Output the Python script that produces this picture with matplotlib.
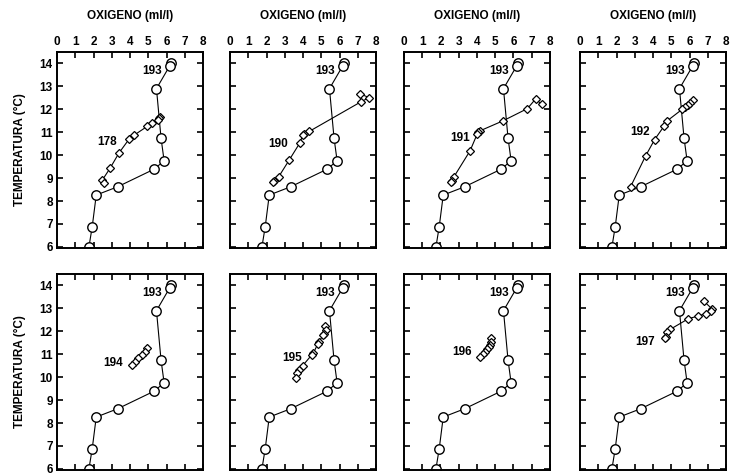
import matplotlib
matplotlib.use("Agg")
import matplotlib.pyplot as plt

plt.rcParams['font.family'] = ['Liberation Sans', 'DejaVu Sans']
plt.rcParams['font.weight'] = 'bold'

# station 193 (circles), same in every panel
st193_oxi = [6.25, 6.18, 5.45, 5.7, 5.87, 5.3, 3.32, 2.15, 1.93, 1.75]
st193_tem = [14.0, 13.9, 12.9, 10.75, 9.75, 9.38, 8.62, 8.26, 6.88, 6.0]

# other stations (diamonds)
st178_oxi = [5.65, 5.6, 5.55, 5.2, 4.95, 4.24, 3.96, 3.4, 2.9, 2.48, 2.58]
st178_tem = [11.68, 11.62, 11.55, 11.4, 11.26, 10.88, 10.71, 10.1, 9.42, 8.91, 8.77]

st190_oxi = [7.12, 7.62, 7.16, 4.35, 4.05, 3.98, 3.84, 3.23, 2.67, 2.43, 2.34]
st190_tem = [12.68, 12.51, 12.32, 11.04, 10.94, 10.87, 10.55, 9.77, 9.06, 8.88, 8.84]

st191_oxi = [7.54, 7.21, 6.76, 5.43, 4.16, 4.07, 4.02, 3.62, 2.74, 2.64, 2.58]
st191_tem = [12.22, 12.45, 12.03, 11.5, 11.06, 10.99, 10.94, 10.19, 9.06, 8.88, 8.81]

st192_oxi = [6.17, 6.03, 5.9, 5.75, 5.6, 4.75, 4.6, 4.09, 3.59, 2.77]
st192_tem = [12.39, 12.27, 12.17, 12.1, 12.0, 11.48, 11.26, 10.68, 9.96, 8.62]

st194_oxi = [4.92, 4.82, 4.64, 4.45, 4.27, 4.09]
st194_tem = [11.26, 11.11, 10.97, 10.82, 10.67, 10.53]

st195_oxi = [5.22, 5.26, 5.17, 5.08, 4.88, 4.81, 4.57, 4.49, 3.98, 3.8, 3.69, 3.6]
st195_tem = [12.21, 12.04, 11.89, 11.82, 11.53, 11.45, 11.05, 10.98, 10.5, 10.32, 10.18, 9.97]

st196_oxi = [4.77, 4.77, 4.71, 4.66, 4.57, 4.44, 4.31, 4.16]
st196_tem = [11.71, 11.55, 11.41, 11.33, 11.23, 11.11, 11.01, 10.89]

st197_oxi = [6.79, 7.26, 7.16, 6.89, 6.48, 5.94, 4.93, 4.79, 4.71, 4.66]
st197_tem = [13.31, 12.96, 12.87, 12.77, 12.67, 12.55, 12.08, 11.96, 11.74, 11.7]

stations = [
    ("178", st178_oxi, st178_tem, 2.76, 10.58),
    ("190", st190_oxi, st190_tem, 2.64, 10.5),
    ("191", st191_oxi, st191_tem, 3.07, 10.73),
    ("192", st192_oxi, st192_tem, 3.29, 11.0),
    ("194", st194_oxi, st194_tem, 3.09, 10.6),
    ("195", st195_oxi, st195_tem, 3.38, 10.82),
    ("196", st196_oxi, st196_tem, 3.16, 11.1),
    ("197", st197_oxi, st197_tem, 3.56, 11.52),
]

fig = plt.figure(figsize=(7.3, 4.73), dpi=100)
lefts = [57, 230, 404, 580]
bottoms = [248, 470]

for i, (name, oxi, tem, lx, ly) in enumerate(stations):
    row = i // 4
    col = i % 4
    ax = fig.add_axes([lefts[col] / 730, 1 - bottoms[row] / 473, 146 / 730, 196 / 473])

    ax.plot(st193_oxi, st193_tem, color="black", lw=0.8, marker="o", ms=6.8,
            mfc="white", mec="black", mew=1.0)
    ax.plot(oxi, tem, color="black", lw=0.8, marker="D", ms=4.2,
            mfc="white", mec="black", mew=0.9)
    ax.text(5.2, 13.65, "193", ha="center", va="center", fontsize=8.5, fontweight="bold")
    ax.text(lx, ly, name, ha="center", va="center", fontsize=8.5, fontweight="bold")

    ax.set_xlim(0, 8)
    ax.set_ylim(5.95, 14.5)
    ax.set_xticks(range(0, 9))
    ax.set_yticks(range(6, 15))
    ax.tick_params(direction="in", top=True, bottom=True, left=True, right=True,
                   labeltop=(row == 0), labelbottom=False, labelleft=(col == 0),
                   length=4, width=1.2, labelsize=8.5, pad=3)
    for sp in ax.spines.values():
        sp.set_linewidth(1.4)

    if row == 0:
        ax.xaxis.set_label_position("top")
        ax.set_xlabel("OXIGENO (ml/l)", fontsize=8.5, fontweight="bold", labelpad=12)
    if col == 0:
        ax.set_ylabel("TEMPERATURA (°C)", fontsize=8.5, fontweight="bold", labelpad=10)

fig.savefig("out.png", dpi=100)
